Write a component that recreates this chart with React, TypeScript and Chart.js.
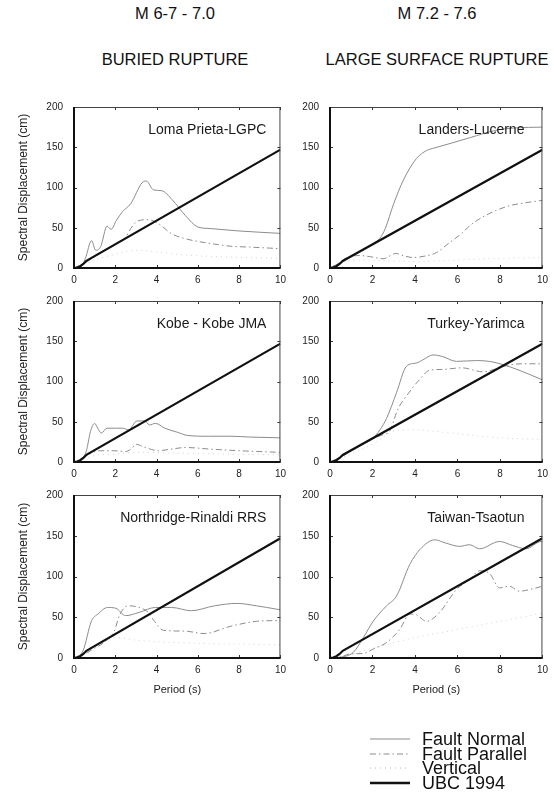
import React, { useEffect, useRef } from 'react';
import { Chart, registerables } from 'chart.js';

Chart.register(...registerables);

type Pt = [number, number];

const FONT = '"Liberation Sans", Arial, Helvetica, sans-serif';

// ---- axis / label data ----
const periodMin = 0;
const periodMax = 10;
const periodStep = 2;
const dispMin = 0;
const dispMax = 200;
const dispStep = 50;
const columnHeaders = ['M 6-7 - 7.0', 'M 7.2 - 7.6'];
const columnSubheaders = ['BURIED RUPTURE', 'LARGE SURFACE RUPTURE'];
const seriesNames = ['Fault Normal', 'Fault Parallel', 'Vertical', 'UBC 1994'];
const xTitle = 'Period (s)';
const yTitle = 'Spectral Displacement (cm)';

// ---- series data: [period (s), spectral displacement (cm)] ----
const ubc1994: Pt[] = [[0, 0], [0.15, 0.55], [0.3, 2.2], [0.45, 5], [0.6, 8.8], [10, 147]];

const lomaFN: Pt[] = [[0, 0], [0.3, 1], [0.55, 12], [0.85, 34], [1.05, 22], [1.3, 27], [1.6, 52], [1.8, 48], [2.05, 59], [2.35, 70], [2.75, 80], [3.3, 106], [3.5, 108], [3.85, 97], [4.25, 96], [4.75, 85], [5.4, 65], [6.0, 51], [6.6, 49], [8, 46], [10, 43]];
const lomaFP: Pt[] = [[0, 0], [0.5, 6], [1, 14], [1.5, 22], [2, 29], [2.5, 38], [2.75, 49], [3.05, 58], [3.6, 60], [4.1, 55], [4.7, 43], [5.3, 37], [6, 33], [7, 29], [7.6, 27], [8.5, 26], [10, 24]];
const lomaV: Pt[] = [[0, 0], [1, 10], [2, 17], [3, 22], [4, 20], [5, 17], [7, 14], [10, 12]];

const landersFN: Pt[] = [[0, 0], [0.5, 7], [1, 15], [1.5, 22], [2, 30], [2.35, 37], [2.6, 49], [3.0, 80], [3.45, 109], [4.07, 136], [4.55, 146], [4.9, 149], [5.7, 155], [6.6, 162], [7.8, 171], [8.7, 174], [10, 175]];
const landersFP: Pt[] = [[0, 0], [0.4, 6], [0.8, 13], [1.4, 15.5], [1.9, 14], [2.5, 11.5], [3.1, 18], [3.5, 15], [3.9, 13], [4.5, 15], [5, 19], [5.6, 31], [6.2, 43], [6.6, 53], [7.3, 65], [8.4, 77], [9.2, 81], [10, 84]];
const landersV: Pt[] = [[0, 0], [0.7, 8], [1.5, 10], [2.5, 9], [4, 8], [6, 10], [8, 12], [10, 13]];

const kobeFN: Pt[] = [[0, 0], [0.3, 2], [0.6, 14], [0.8, 38], [1.0, 48], [1.15, 42], [1.32, 36], [1.6, 42], [2.0, 42], [2.35, 42], [2.65, 40], [3.05, 51], [3.45, 51], [3.65, 46], [3.95, 48], [4.4, 42], [5, 37], [5.5, 33], [6.5, 32], [7.6, 32], [8.5, 31], [10, 30]];
const kobeFP: Pt[] = [[0, 0], [0.3, 2], [0.6, 8], [0.9, 12], [1.3, 14], [1.95, 14], [2.5, 13], [2.8, 17], [3.0, 22], [3.45, 18], [4.1, 14], [4.7, 16], [5.4, 18], [6.6, 16], [8, 14], [10, 12]];
const kobeV: Pt[] = [[0, 0], [0.5, 4], [1, 8], [2, 10], [3, 12], [5, 11], [7, 10], [10, 9]];

const turkeyFN: Pt[] = [[0, 0], [0.5, 6], [1, 14], [1.5, 22], [2, 29], [2.35, 40], [2.66, 54], [3.13, 86], [3.6, 119], [4.07, 123], [4.38, 127], [4.85, 133], [5.3, 131], [5.95, 125], [6.9, 126], [7.5, 125], [8.15, 121], [9, 113], [10, 102]];
const turkeyFP: Pt[] = [[0, 0], [0.5, 6], [1, 14], [1.5, 22], [2, 29], [2.5, 34], [2.8, 38], [3.2, 66], [3.6, 82], [4.2, 102], [4.7, 114], [5.3, 115], [6.2, 117], [7.2, 112], [8.2, 119], [9, 122], [10, 122]];
const turkeyV: Pt[] = [[0, 0], [1, 10], [2, 22], [3, 38], [4, 40], [5, 38], [6, 35], [8, 30], [10, 28]];

const northFN: Pt[] = [[0, 0], [0.44, 9], [0.84, 45], [1.16, 54], [1.63, 62], [2.03, 61], [2.5, 52], [3.16, 56], [3.94, 62], [4.73, 62], [5.68, 58], [6.8, 64], [7.9, 67], [8.84, 64], [9.8, 60], [10, 59]];
const northFP: Pt[] = [[0, 0], [0.5, 5], [1, 12], [1.5, 20], [1.95, 33], [2.2, 52], [2.6, 64], [3.16, 62], [3.6, 56], [3.9, 45], [4.33, 34], [5.37, 33], [6.3, 30], [7.6, 39], [8.84, 45], [10, 46]];
const northV: Pt[] = [[0, 0], [0.9, 9], [1.5, 20], [2, 25], [3, 22], [4, 20], [6, 18], [8, 17], [10, 16]];

const taiwanFN: Pt[] = [[0, 0], [0.5, 1], [1.1, 7], [1.57, 25], [2.03, 45], [2.66, 64], [3.13, 76], [3.76, 115], [4.23, 133], [4.93, 145], [5.45, 141], [6.1, 137], [6.57, 139], [7.04, 134], [7.98, 143], [8.6, 138], [9.23, 134], [9.94, 143], [10, 143]];
const taiwanFP: Pt[] = [[0, 0], [0.5, 1], [0.94, 5], [1.56, 5.5], [2.03, 11], [2.66, 19], [3.28, 35], [3.76, 54], [4.07, 53], [4.54, 45], [5.16, 56], [5.95, 84], [6.57, 96], [7.04, 107], [7.5, 104], [7.98, 86], [8.45, 88], [8.9, 82], [9.7, 86], [10, 88]];
const taiwanV: Pt[] = [[0, 0], [1, 5], [2, 12], [4, 25], [6, 35], [8, 45], [10, 55]];

const panelTitles = ['Loma Prieta-LGPC', 'Landers-Lucerne', 'Kobe - Kobe JMA', 'Turkey-Yarimca', 'Northridge-Rinaldi RRS', 'Taiwan-Tsaotun'];
const panelSeries: Pt[][][] = [
  [lomaFN, lomaFP, lomaV],
  [landersFN, landersFP, landersV],
  [kobeFN, kobeFP, kobeV],
  [turkeyFN, turkeyFP, turkeyV],
  [northFN, northFP, northV],
  [taiwanFN, taiwanFP, taiwanV],
];

// ---- styles ----
const styleFN = { color: '#8c8c8c', width: 1, dash: [] as number[] };
const styleFP = { color: '#8c8c8c', width: 1, dash: [6, 3, 1.5, 3] };
const styleV = { color: '#d2d2d2', width: 1, dash: [1, 4] };
const styleUBC = { color: '#111111', width: 2.2, dash: [] as number[] };

// ---- layout ----
const colLayout = [
  { left: 0, width: 292, axisW: 74, padRight: 8, titleInset: 14 },
  { left: 292, width: 262, axisW: 38, padRight: 11, titleInset: 18 },
];
const rowLayout = [
  { top: 90, height: 200, axisH: 22 },
  { top: 284, height: 200, axisH: 22 },
  { top: 478, height: 222, axisH: 42 },
];

function toXY(pts: Pt[]) {
  return pts.map(([x, y]) => ({ x, y }));
}

function Panel({ index }: { index: number }) {
  const ref = useRef<HTMLCanvasElement>(null);
  const col = index % 2;
  const row = Math.floor(index / 2);
  const cl = colLayout[col];
  const rl = rowLayout[row];

  useEffect(() => {
    const canvas = ref.current!;
    const [fn, fp, vt] = panelSeries[index];
    const title = panelTitles[index];
    const framePlugin = {
      id: 'frame' + index,
      afterDatasetsDraw(chart: any) {
        const { ctx, chartArea, scales } = chart;
        const { left, right, top, bottom } = chartArea;
        ctx.save();
        ctx.strokeStyle = '#333';
        ctx.lineWidth = 1;
        ctx.beginPath();
        for (let v = periodMin; v <= periodMax; v += periodStep) {
          const x = Math.round(scales.x.getPixelForValue(v)) + 0.5;
          ctx.moveTo(x, top); ctx.lineTo(x, top + 3);
          ctx.moveTo(x, bottom); ctx.lineTo(x, bottom - 3);
        }
        for (let v = dispMin; v <= dispMax; v += dispStep) {
          const y = Math.round(scales.y.getPixelForValue(v)) + 0.5;
          ctx.moveTo(left, y); ctx.lineTo(left + 3, y);
          ctx.moveTo(right, y); ctx.lineTo(right - 3, y);
        }
        ctx.stroke();
        ctx.strokeStyle = '#444';
        ctx.lineWidth = 1;
        ctx.beginPath();
        ctx.moveTo(left, top + 0.5); ctx.lineTo(right, top + 0.5);
        ctx.moveTo(right - 0.5, top); ctx.lineTo(right - 0.5, bottom);
        ctx.stroke();
        ctx.strokeStyle = '#111';
        ctx.lineWidth = 2;
        ctx.beginPath();
        ctx.moveTo(left, top); ctx.lineTo(left, bottom);
        ctx.lineTo(right, bottom);
        ctx.stroke();
        ctx.fillStyle = '#1a1a1a';
        ctx.font = `14px ${FONT}`;
        ctx.textAlign = 'right';
        ctx.textBaseline = 'middle';
        ctx.fillText(title, right - cl.titleInset, top + 23);
        ctx.restore();
      },
    };

    const chart = new Chart(canvas, {
      type: 'line',
      data: {
        datasets: [
          { label: seriesNames[3], data: toXY(ubc1994), borderColor: styleUBC.color, borderWidth: styleUBC.width, borderDash: styleUBC.dash, pointRadius: 0, tension: 0, order: 0 },
          { label: seriesNames[0], data: toXY(fn), borderColor: styleFN.color, borderWidth: styleFN.width, borderDash: styleFN.dash, pointRadius: 0, cubicInterpolationMode: 'monotone', order: 1 },
          { label: seriesNames[1], data: toXY(fp), borderColor: styleFP.color, borderWidth: styleFP.width, borderDash: styleFP.dash, pointRadius: 0, cubicInterpolationMode: 'monotone', order: 2 },
          { label: seriesNames[2], data: toXY(vt), borderColor: styleV.color, borderWidth: styleV.width, borderDash: styleV.dash, pointRadius: 0, cubicInterpolationMode: 'monotone', order: 3 },
        ] as any,
      },
      options: {
        responsive: false,
        animation: false,
        devicePixelRatio: 1,
        layout: { padding: { left: 0, right: cl.padRight, top: 10, bottom: 0 } },
        plugins: { legend: { display: false }, tooltip: { enabled: false } },
        scales: {
          x: {
            type: 'linear',
            min: periodMin,
            max: periodMax,
            ticks: { stepSize: periodStep, padding: 6, maxRotation: 0, color: '#222', font: { size: 10, family: FONT } },
            grid: { display: false, drawTicks: false },
            border: { display: false },
            title: {
              display: row === 2,
              text: xTitle,
              color: '#222',
              font: { size: 11, family: FONT },
              padding: { top: 0, bottom: 3 },
            },
            afterFit: (s: any) => { s.height = rl.axisH; },
          },
          y: {
            type: 'linear',
            min: dispMin,
            max: dispMax,
            ticks: { stepSize: dispStep, padding: 11, color: '#222', font: { size: 10, family: FONT } },
            grid: { display: false, drawTicks: false },
            border: { display: false },
            title: {
              display: col === 0,
              text: yTitle,
              color: '#222',
              font: { size: 12, family: FONT },
              padding: { top: 16, bottom: 0 },
            },
            afterFit: (s: any) => { s.width = cl.axisW; },
          },
        },
      } as any,
      plugins: [framePlugin],
    });
    return () => chart.destroy();
  }, [index]);

  return (
    <canvas
      ref={ref}
      width={cl.width}
      height={rl.height}
      style={{ position: 'absolute', left: cl.left, top: rl.top, width: cl.width, height: rl.height }}
    />
  );
}

function Legend() {
  const styles = [styleFN, styleFP, styleV, styleUBC];
  const rowsY = [739, 754, 768, 783];
  return (
    <svg width={554} height={807} style={{ position: 'absolute', left: 0, top: 0, pointerEvents: 'none' }}>
      {seriesNames.map((name, i) => (
        <g key={name}>
          <line
            x1={370}
            x2={410}
            y1={rowsY[i]}
            y2={rowsY[i]}
            stroke={i === 2 ? '#b8b8b8' : styles[i].color}
            strokeWidth={i === 3 ? 2.5 : styles[i].width}
            strokeDasharray={styles[i].dash.length ? styles[i].dash.join(' ') : undefined}
          />
          <text x={422} y={rowsY[i]} dominantBaseline="central" fontFamily={FONT} fontSize={18} fill="#111">
            {name}
          </text>
        </g>
      ))}
    </svg>
  );
}

export default function App() {
  const headerCenters = [175, 437];
  return (
    <div style={{ position: 'fixed', left: 0, top: 0, width: 554, height: 807, background: '#fff', overflow: 'hidden' }}>
      {columnHeaders.map((h, i) => (
        <div key={h} style={{ position: 'absolute', left: headerCenters[i] - 150, top: 3, width: 300, textAlign: 'center', fontFamily: FONT, fontSize: 16.5, lineHeight: '20px', color: '#111' }}>
          {h}
        </div>
      ))}
      {columnSubheaders.map((h, i) => (
        <div key={h} style={{ position: 'absolute', left: headerCenters[i] - 150, top: 49, width: 300, textAlign: 'center', fontFamily: FONT, fontSize: 16.5, lineHeight: '20px', color: '#111' }}>
          {h}
        </div>
      ))}
      {panelTitles.map((t, i) => (
        <Panel key={t} index={i} />
      ))}
      <Legend />
    </div>
  );
}
